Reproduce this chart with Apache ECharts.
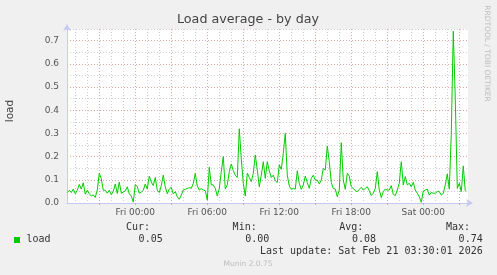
<!DOCTYPE html>
<html>
<head>
<meta charset="utf-8">
<script src="https://cdn.jsdelivr.net/npm/echarts@6/dist/echarts.min.js"></script>
<style>
html,body{margin:0;padding:0;background:#f0f0f0;}
#c{width:497px;height:275px;}
</style>
</head>
<body>
<div id="c"></div>
<script>
// ---- data (hours relative to Fri 00:00) ----
const title = 'Load average - by day';
const yName = 'load';
const seriesName = 'load';
const startHour = -5.667;          // first sample (Thu 18:20)
const stepHour = 1 / 6;            // 10 minute samples
const loadValues = [
  .045,.055,.045,.06,.04,.055,.08,.06,.087,.038,
  .055,.04,.03,.035,.024,.056,.128,.105,.055,.055,
  .042,.055,.036,.05,.082,.041,.09,.042,.047,.052,
  .07,.04,.03,.004,.08,.07,.042,.047,.055,.082,
  .06,.116,.09,.075,.11,.055,.045,.075,.12,.07,
  .04,
  .06,.068,.039,.049,.027,.016,.034,.056,.059,.063,
  .066,.063,.085,.128,.073,.056,.062,.056,.053,.013,
  .154,.078,.078,.063,.03,.063,.135,.2,.06,.078,
  .135,.168,.14,.12,.11,.32,.19,.085,.03,.128,
  .11,.092,.128,.207,.142,.07,.12,.178,.106,.178,
  .139,.11,.12,.096,.088,.164,.145,.214,.30,.12,
  .073,.059,.063,.06,.139,.085,.059,.078,.116,.088,
  .063,.106,.12,.099,.099,.082,.099,.149,.142,.246,
  .178,.088,.063,.06,.027,.056,.26,.099,.059,.128,
  .116,.07,.063,.053,.049,.059,.068,.056,.063,.07,
  .053,.032,.042,.063,.135,.056,.023,.049,.06,.056,
  .056,.075,.037,.032,.056,.085,.178,.078,.114,.078,
  .085,.07,.089,.056,.042,.027,.003,.052,.056,.06,
  .034,.046,.042,.042,.049,.049,.034,.042,.078,.125,
  .06,.30,.74,.45,.063,.085,.049,.16,.05
];
const xLabelHours = [0, 6, 12, 18, 24];
const xLabels = ['Fri 00:00', 'Fri 06:00', 'Fri 12:00', 'Fri 18:00', 'Sat 00:00'];
const majorGridHours = [-3, 0, 3, 6, 9, 12, 15, 18, 21, 24, 27];
const minorGridHours = [-5,-4,-2,-1,1,2,4,5,7,8,10,11,13,14,16,17,19,20,22,23,25,26];
const xMin = -5.69, xMax = 27.725;
const yMin = 0, yMax = 0.75, yStep = 0.05;
const statHeads = ['Cur:', 'Min:', 'Avg:', 'Max:'];
const statValues = ['0.05', '0.00', '0.08', '0.74'];
const lastUpdate = 'Last update: Sat Feb 21 03:30:01 2026';
const footer = 'Munin 2.0.75';
const sideText = 'RRDTOOL / TOBI OETIKER';

// ---- chart ----
const pts = loadValues.map((v, i) => [startHour + i * stepHour, v]);
const RED = '#e4a4a4', GREY = '#cfcfcf', AXIS = '#c8c8f4';
const chart = echarts.init(document.getElementById('c'), null, {renderer: 'canvas'});

const headX = [150, 256.7, 363.3, 470];
const valX = [162.7, 269.3, 376, 482.7];
const mono = '10px "DejaVu Sans Mono"';
const graphics = [
  {type:'text', x:248, y:19.5, style:{text:title, align:'center', verticalAlign:'middle', fill:'#444', font:'12.7px "DejaVu Sans"'}},
  {type:'text', x:10, y:111, rotation:Math.PI/2, style:{text:yName, align:'center', verticalAlign:'middle', fill:'#444', font:'10.5px "DejaVu Sans"'}},
  {type:'text', x:487, y:53.5, rotation:-Math.PI/2, style:{text:sideText, align:'center', verticalAlign:'middle', fill:'#bdbdbd', font:'7.5px "DejaVu Sans"'}},
  {type:'rect', shape:{x:14, y:237, width:6, height:6}, style:{fill:'#00cc00'}},
  {type:'text', x:26.5, y:239.8, style:{text:seriesName, align:'left', verticalAlign:'middle', fill:'#333', font:mono}},
  {type:'text', x:482.7, y:251.8, style:{text:lastUpdate, align:'right', verticalAlign:'middle', fill:'#333', font:mono}},
  {type:'text', x:248, y:264, style:{text:footer, align:'center', verticalAlign:'middle', fill:'#bdbdbd', font:'7.5px "DejaVu Sans"'}}
];
statHeads.forEach((h, i) => {
  graphics.push({type:'text', x:headX[i], y:227.5, style:{text:h, align:'right', verticalAlign:'middle', fill:'#333', font:mono}});
  graphics.push({type:'text', x:valX[i], y:239.8, style:{text:statValues[i], align:'right', verticalAlign:'middle', fill:'#333', font:mono}});
});

const baseX = {type:'value', min:xMin, max:xMax, gridIndex:0};
chart.setOption({
  backgroundColor:'#f0f0f0',
  animation:false,
  grid:{left:67, right:29, top:29, bottom:72, show:true, backgroundColor:'#ffffff', borderWidth:0},
  xAxis:[
    Object.assign({}, baseX, {
      axisLine:{show:false, onZero:false},
      axisLabel:{show:false},
      axisTick:{show:false, customValues:minorGridHours},
      splitLine:{show:true, lineStyle:{color:GREY, width:1, type:[1,2]}}
    }),
    Object.assign({}, baseX, {
      position:'bottom',
      axisLine:{show:true, onZero:false, lineStyle:{color:AXIS, width:1}, symbol:['none','arrow'], symbolSize:[6,7], symbolOffset:[0,5]},
      axisTick:{show:true, length:2, lineStyle:{color:RED}, customValues:majorGridHours},
      axisLabel:{show:true, customValues:xLabelHours, color:'#555', fontFamily:'DejaVu Sans', fontSize:9, margin:5,
        formatter:v => { const k = xLabelHours.indexOf(Math.round(v)); return k >= 0 ? xLabels[k] : ''; }},
      splitLine:{show:true, lineStyle:{color:RED, width:1, type:[1,2]}}
    })
  ],
  yAxis:{
    type:'value', min:yMin, max:yMax, interval:yStep,
    axisLine:{show:true, onZero:false, lineStyle:{color:AXIS, width:1}, symbol:['none','arrow'], symbolSize:[6,7], symbolOffset:[0,5]},
    axisTick:{show:false},
    axisLabel:{color:'#555', fontFamily:'DejaVu Sans', fontSize:9, margin:8,
      formatter:v => { const n = Math.round(v * 100); return n % 10 === 0 ? (n / 100).toFixed(1) : ''; }},
    splitLine:{show:true, lineStyle:{color:[RED, GREY], width:1, type:[1,2]}}
  },
  graphic:graphics,
  series:[{
    type:'line', name:seriesName, data:pts, xAxisIndex:1, showSymbol:false, symbol:'none',
    lineStyle:{color:'#00cc00', width:1}, z:5
  }]
});
</script>
</body>
</html>
